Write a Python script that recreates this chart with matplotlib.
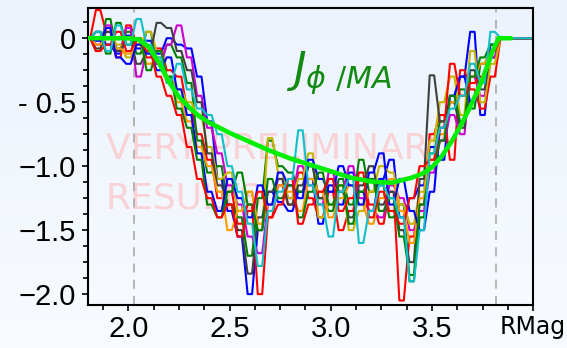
import numpy as np
import matplotlib
matplotlib.use('Agg')
import matplotlib.pyplot as plt

plt.rcParams['axes.linewidth'] = 1.5
plt.rcParams['xtick.major.size'] = 4.5
plt.rcParams['xtick.major.width'] = 1.2
plt.rcParams['xtick.minor.size'] = 3.5
plt.rcParams['xtick.minor.width'] = 1.2
plt.rcParams['ytick.major.size'] = 4.5
plt.rcParams['ytick.major.width'] = 1.2
plt.rcParams['ytick.minor.size'] = 3.5
plt.rcParams['ytick.minor.width'] = 1.2

# radial grid of the reconstructions (RMag), step 0.05
R = [1.80, 1.85, 1.90, 1.95, 2.00, 2.05, 2.10, 2.15, 2.20, 2.25,
     2.30, 2.35, 2.40, 2.45, 2.50, 2.55, 2.60, 2.65, 2.70, 2.75,
     2.80, 2.85, 2.90, 2.95, 3.00, 3.05, 3.10, 3.15, 3.20, 3.25,
     3.30, 3.35, 3.40, 3.45, 3.50, 3.55, 3.60, 3.65, 3.70, 3.75,
     3.80, 3.85]
R_END = 4.0

# J_phi profiles (MA) of the individual reconstructions
j_blue = [0.0, 0.05, -0.05, -0.12, 0.02, -0.08, -0.02, -0.12, 0.0, -0.05,
          -0.08, -0.3, -0.65, -1.1, -1.35, -1.55, -2.0, -1.5, -1.2, -1.28,
          -1.35, -1.2, -1.1, -1.45, -1.15, -1.3, -1.05, -1.2, -1.35, -1.1,
          -0.95, -1.4, -1.25, -1.15, -0.85, -0.95, -0.45, -0.3, 0.05, -0.6,
          -0.15, 0.0]
j_red = [0.0, 0.22, 0.05, -0.15, 0.1, -0.05, -0.15, -0.08, -0.25, -0.3,
         -0.55, -0.75, -0.95, -1.25, -1.2, -1.45, -1.3, -2.0, -1.4, -1.15,
         -1.3, -1.05, -1.25, -1.4, -1.2, -1.5, -1.35, -1.1, -1.3, -1.45,
         -1.2, -2.05, -1.55, -1.3, -0.75, -0.6, -0.95, -0.25, -0.4, -0.55,
         -0.3, 0.0]
j_green = [0.0, -0.1, 0.15, -0.08, 0.05, -0.12, 0.05, -0.2, -0.05, -0.15,
           -0.35, -0.8, -1.05, -1.0, -1.3, -1.4, -1.7, -1.25, -0.8, -1.0,
           -1.05, -1.2, -1.0, -1.25, -1.35, -1.1, -1.3, -0.95, -1.2, -1.15,
           -1.4, -1.3, -1.9, -1.4, -0.9, -0.65, -0.5, -0.4, -0.55, -0.2,
           -0.1, 0.0]
j_magenta = [0.0, -0.05, 0.1, -0.1, 0.08, -0.3, -0.1, -0.2, -0.05, 0.1,
             -0.15, -0.45, -0.7, -0.9, -1.15, -1.3, -1.55, -1.68, -1.3, -1.1,
             -1.25, -1.0, -1.15, -1.3, -1.05, -1.2, -1.0, -1.25, -1.35, -1.4,
             -1.15, -1.25, -1.5, -1.35, -1.05, -0.8, -0.6, -0.75, -0.3, -0.45,
             -0.15, 0.0]
j_yellow = [0.0, 0.0, 0.08, -0.05, -0.15, -0.05, 0.05, -0.1, -0.3, -0.4,
            -0.5, -0.6, -0.85, -1.1, -1.05, -1.35, -1.2, -1.5, -0.78, -1.05,
            -1.25, -1.1, -0.9, -1.4, -1.3, -1.15, -1.5, -1.35, -1.2, -1.0,
            -1.05, -1.3, -1.45, -1.2, -0.8, -0.5, -0.3, -0.6, -0.1, -0.5,
            -0.2, 0.0]
j_gray = [0.0, -0.08, 0.05, -0.1, 0.0, -0.2, -0.1, 0.12, 0.08, -0.1,
          -0.25, -0.5, -0.9, -1.15, -1.3, -1.5, -1.84, -1.4, -1.2, -1.1,
          -1.3, -1.15, -1.0, -1.25, -1.1, -1.2, -1.4, -1.15, -1.0, -1.3,
          -1.2, -1.5, -1.75, -1.1, -0.29, -0.65, -0.5, -0.7, -0.25, -0.4,
          -0.1, 0.0]
j_orange = [0.0, -0.05, 0.0, -0.08, -0.12, -0.05, -0.2, -0.15, -0.35, -0.5,
            -0.65, -0.85, -1.0, -1.2, -1.5, -1.35, -1.2, -1.45, -1.3, -1.15,
            -1.2, -1.35, -1.1, -1.2, -1.4, -1.25, -1.15, -1.3, -1.45, -1.25,
            -1.1, -1.35, -1.6, -1.25, -0.95, -0.75, -0.5, -0.45, -0.3, -0.2,
            -0.1, 0.0]
j_blue2 = [0.0, -0.02, 0.08, -0.15, -0.2, -0.05, -0.12, -0.25, -0.15, -0.4,
           -0.6, -0.9, -1.2, -1.35, -1.1, -1.25, -1.4, -1.15, -1.3, -1.05,
           -1.15, -1.25, -0.95, -1.1, -1.2, -1.0, -1.15, -1.3, -1.05, -0.9,
           -1.3, -1.1, -1.35, -1.5, -1.2, -0.7, -0.45, -0.3, -0.5, -0.35,
           -0.05, 0.0]
j_green2 = [0.0, 0.05, -0.12, 0.12, -0.05, 0.0, -0.25, -0.1, -0.3, -0.55,
            -0.7, -0.95, -1.3, -1.4, -1.2, -1.05, -1.3, -1.5, -1.1, -1.25,
            -1.15, -1.4, -1.2, -1.05, -1.3, -1.15, -1.45, -1.2, -1.1, -1.35,
            -1.25, -1.55, -1.85, -1.3, -1.0, -0.8, -0.45, -0.65, -0.3, -0.15,
            -0.05, 0.0]
j_red2 = [0.0, -0.1, -0.05, 0.05, -0.1, -0.02, -0.1, -0.3, -0.45, -0.6,
          -0.85, -1.1, -1.25, -1.4, -1.3, -1.55, -1.35, -1.2, -1.4, -1.3,
          -1.1, -1.45, -1.3, -1.2, -1.1, -1.35, -1.25, -1.05, -1.4, -1.2,
          -1.35, -1.45, -1.25, -1.0, -0.95, -0.7, -0.2, -0.45, -0.35, -0.3,
          -0.1, 0.0]
j_cyan = [0.0, 0.05, -0.1, 0.1, -0.05, 0.15, -0.05, -0.15, -0.35, -0.2,
          -0.4, -0.55, -0.6, -0.75, -1.0, -1.2, -1.45, -1.78, -1.35, -1.2,
          -1.1, -0.72, -1.15, -1.3, -1.55, -1.2, -1.1, -1.6, -1.35, -1.15,
          -1.25, -1.4, -1.9, -1.5, -0.9, -0.7, -0.55, -0.45, -0.2, -0.35,
          0.05, 0.0]

profiles = [j_blue, j_red, j_green, j_magenta, j_yellow, j_gray, j_orange,
            j_blue2, j_green2, j_red2, j_cyan]
colors = ['#0000ff', '#ff0000', '#008000', '#cc00cc', '#c8b400', '#404040',
          '#ff9900', '#0000ff', '#008000', '#ff0000', '#10bfc8']

# mean profile
R_mean = [1.80, 1.90, 2.00, 2.05, 2.10, 2.15, 2.20, 2.25, 2.30, 2.35,
          2.40, 2.50, 2.60, 2.70, 2.80, 2.90, 3.00, 3.10, 3.20, 3.30,
          3.40, 3.45, 3.50, 3.55, 3.60, 3.65, 3.70, 3.75, 3.80, 3.83, 3.89]
j_mean = [0.0, 0.0, 0.0, -0.01, -0.07, -0.19, -0.34, -0.46, -0.54, -0.61,
          -0.66, -0.74, -0.81, -0.88, -0.94, -0.99, -1.04, -1.09, -1.12, -1.13,
          -1.09, -1.06, -1.01, -0.92, -0.80, -0.66, -0.50, -0.32, -0.10, 0.0, 0.0]

xticks = [2.0, 2.5, 3.0, 3.5, 4.0]
xticklabels = ['2.0', '2.5', '3.0', '3.5', 'RMag']
yticks = [-2.0, -1.5, -1.0, -0.5, 0.0]
yticklabels = ['\u22122.0', '\u22121.5', '\u22121.0', '- 0.5', '0']
R_limits = [2.025, 3.818]


def plateau(r, j, half=0.011):
	# each sample held flat over a short span, like the original output
	X, Y = [], []
	for ri, ji in zip(r, j):
		X += [ri - half, ri + half]
		Y += [ji, ji]
	X[0] = r[0]
	X.append(R_END)
	Y.append(0.0)
	return X, Y


bg = '#f0f6fd'
fig = plt.figure(figsize=(5.67, 3.48), dpi=100, facecolor=bg)
ax = fig.add_axes([0.1552, 0.1236, 0.785, 0.8548])

# background gradient, light blue at the top fading downwards
grad = np.linspace(0, 1, 256).reshape(-1, 1)
bgax = fig.add_axes([0, 0, 1, 1], zorder=-10)
bgax.imshow(grad, aspect='auto', cmap=matplotlib.colors.LinearSegmentedColormap.from_list('bg', ['#ecf3fc', '#f8fbff']),
            extent=[0, 1, 0, 1])
bgax.axis('off')
ax.patch.set_alpha(0.0)

ax.text(0.04, 0.491, 'VERY PRELIMINARY', transform=ax.transAxes, fontsize=26,
        color='#f9d2d6', family='DejaVu Sans', zorder=0)
ax.text(0.04, 0.326, 'RESULTS', transform=ax.transAxes, fontsize=26,
        color='#f9d2d6', family='DejaVu Sans', zorder=0)

for r0 in R_limits:
	ax.axvline(r0, color='#b0b0b0', linewidth=1.3, dashes=(5, 4), zorder=1)

for j, c in zip(profiles, colors):
	X, Y = plateau(R, j)
	ax.plot(X, Y, '-', color=c, linewidth=1.5, zorder=2)

ax.plot(R_mean, j_mean, '-', color='#00ee00', linewidth=3.3, zorder=3, solid_capstyle='round')

ax.text(2.78, -0.34, r'$J_{\phi\ /MA}$', fontsize=31, color='#138a13', zorder=4)

ax.set_xlim(1.8, 4.0)
ax.set_ylim(-2.085, 0.24)
ax.set_xticks(xticks)
ax.set_xticks(np.arange(1.875, 4.0, 0.125), minor=True)
ax.set_yticks(yticks)
ax.set_yticks(np.arange(-2.0, 0.2, 0.125), minor=True)
ax.set_xticklabels(xticklabels, family='Liberation Sans', fontsize=21)
ax.set_yticklabels(yticklabels, family='Liberation Sans', fontsize=21)
ax.get_xticklabels()[-1].set_family('DejaVu Sans')
ax.get_xticklabels()[-1].set_fontsize(17)
ax.tick_params(which='both', direction='out', top=False, right=False)
ax.tick_params(axis='x', pad=3)
ax.tick_params(axis='y', pad=4)

fig.savefig('out.png', dpi=100, facecolor=fig.get_facecolor())
